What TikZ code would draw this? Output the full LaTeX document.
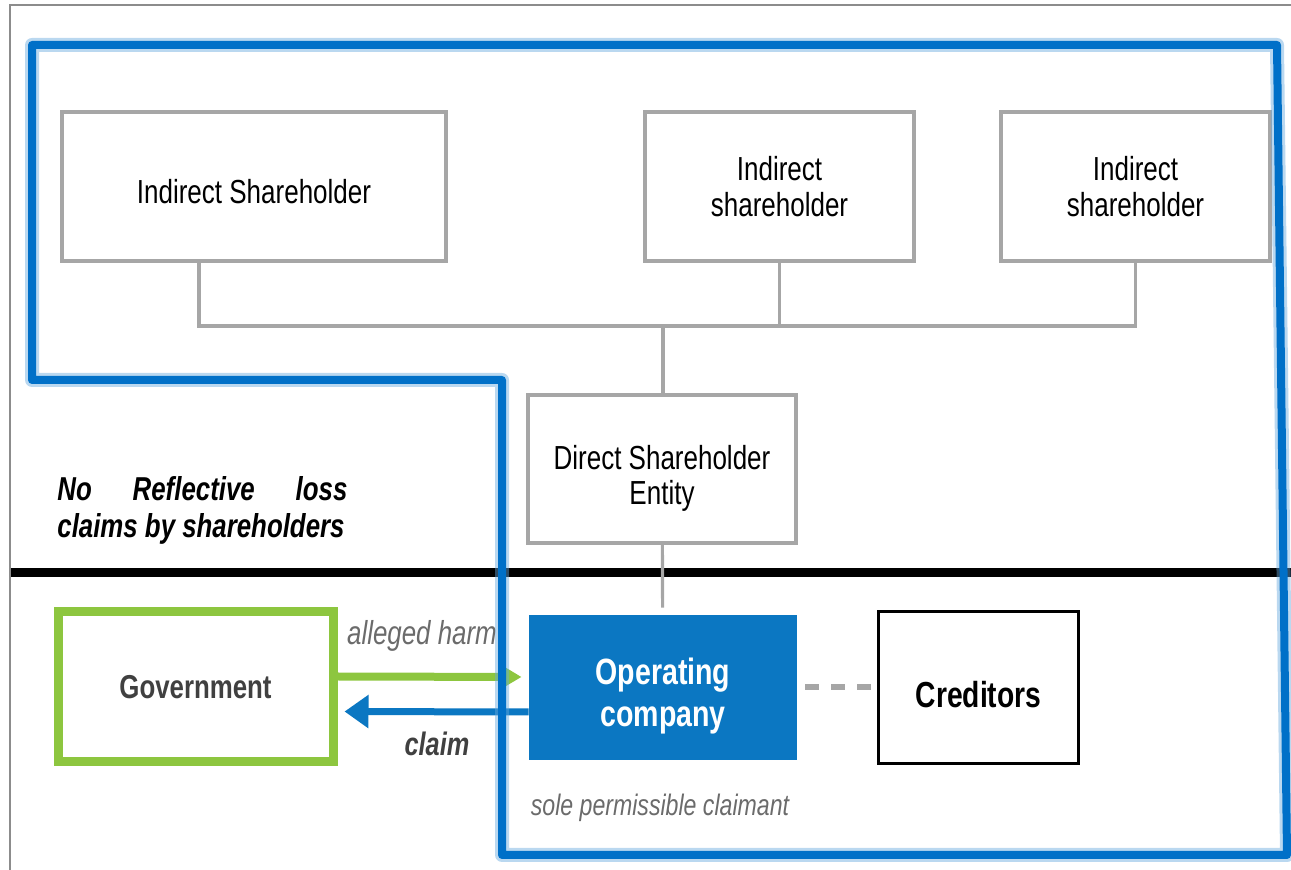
\documentclass[tikz,border=0pt]{standalone}
\usepackage{fontspec}
\setmainfont[FakeStretch=0.78]{Liberation Sans}
\usetikzlibrary{arrows.meta}

\definecolor{boxgray}{HTML}{A6A6A6}
\definecolor{framegray}{HTML}{8C8C8C}
\definecolor{opblue}{HTML}{0B77C2}
\definecolor{outblue}{HTML}{0070C8}
\definecolor{govgreen}{HTML}{8DC63F}
\definecolor{labelgray}{HTML}{6B6B6B}
\definecolor{textdark}{HTML}{404040}

\begin{document}
\begin{tikzpicture}[x=0.5pt,y=-0.5pt,
    shbox/.style={draw=boxgray,line width=2pt,rectangle,inner sep=0pt,
      minimum width=134.5pt,minimum height=74.5pt,align=center,
      font=\fontsize{16.67pt}{18pt}\selectfont},
    conn/.style={draw=boxgray,line width=1.6pt},
    note/.style={inner sep=0pt,text=labelgray,
      font=\fontsize{16.6pt}{18pt}\selectfont\itshape}]
  \useasboundingbox (0,0) rectangle (1291,870);
  % outer frame
  \draw[framegray,line width=0.8pt] (1291,5) -- (10,5) -- (10,870);

  % shareholders
  \node[shbox,minimum width=192pt] (indA) at (254,186.5) {\rule{0pt}{17pt}Indirect Shareholder};
  \node[shbox] (indB) at (779.5,186.5) {Indirect\\shareholder};
  \node[shbox] (indC) at (1135.5,186.5) {Indirect\\shareholder};
  \node[shbox,minimum width=134pt,minimum height=74pt,
    font=\fontsize{16.67pt}{17.5pt}\selectfont] (direct) at (662,469)
    {\rule{0pt}{21pt}Direct Shareholder\\Entity};
  \coordinate (bus) at (663,326);
  \draw[conn] ([xshift=-27.5pt]indA.south) |- (indC.south |- bus) -- (indC.south);
  \draw[conn] (indB.south) -- (indB.south |- bus);
  \draw[conn] (bus) -- (bus |- direct.north);

  % dividing line
  \draw[black,line width=4.5pt] (11,573) -- (1291,573);

  % lower row
  \node[draw=govgreen,line width=4.5pt,inner sep=0pt,minimum width=137.5pt,
    minimum height=75pt,text=textdark,font=\fontsize{16.56pt}{18pt}\selectfont\bfseries]
    (gov) at (195.5,687) {Government};
  \node[fill=opblue,inner sep=0pt,minimum width=134pt,minimum height=72.5pt,
    text=white,align=center,font=\fontsize{18.3pt}{21pt}\selectfont\bfseries]
    (opco) at (663,687.5) {\rule{0pt}{22pt}Operating\\company};
  \node[draw=black,line width=1.5pt,inner sep=0pt,minimum width=100pt,
    minimum height=76pt,font=\fontsize{18.1pt}{20pt}\selectfont\bfseries]
    (cred) at (978.5,687.5) {\rule{0pt}{20pt}Creditors};
  \draw[conn,shorten >=3.5pt] (direct) -- (opco);
  \draw[boxgray,line width=3pt,dash pattern=on 7pt off 6pt,shorten <=4pt]
    (opco.east) -- (cred.west);
  \draw[govgreen,line width=4pt,-{Triangle[length=10pt,width=11pt]},shorten >=3.5pt]
    ([yshift=5.25pt]gov.east) -- ([yshift=5.25pt]opco.west);
  \draw[opblue,line width=3.5pt,-{Triangle[length=12pt,width=16pt]},shorten >=3.5pt]
    ([yshift=-12.25pt]opco.west) -- ([yshift=-12.25pt]gov.east);

  % labels
  \node[note] (harm) at (422,636) {alleged harm};
  \node[inner sep=0pt,text=textdark,font=\fontsize{16.24pt}{18pt}\selectfont\bfseries\itshape]
    (claimlbl) at (437,744) {claim};
  \node[note,font=\fontsize{14.82pt}{17pt}\selectfont\itshape] (sole) at (660,808) {sole permissible claimant};
  \node[anchor=west,inner sep=0pt,text width=145pt,align=justify,
    font=\fontsize{16.56pt}{18.5pt}\selectfont\bfseries\itshape]
    (noloss) at (57,510.5) {No Reflective loss claims by shareholders};

  % blue outline
  \draw[outblue!60,opacity=0.45,line width=7pt,line join=round]
    (32,45) -- (32,380) -- (502,380) -- (502,855) -- (1287,855) -- (1277,45) -- cycle;
  \draw[outblue,line width=4pt,line join=round]
    (32,45) -- (32,380) -- (502,380) -- (502,855) -- (1287,855) -- (1277,45) -- cycle;
\end{tikzpicture}
\end{document}
